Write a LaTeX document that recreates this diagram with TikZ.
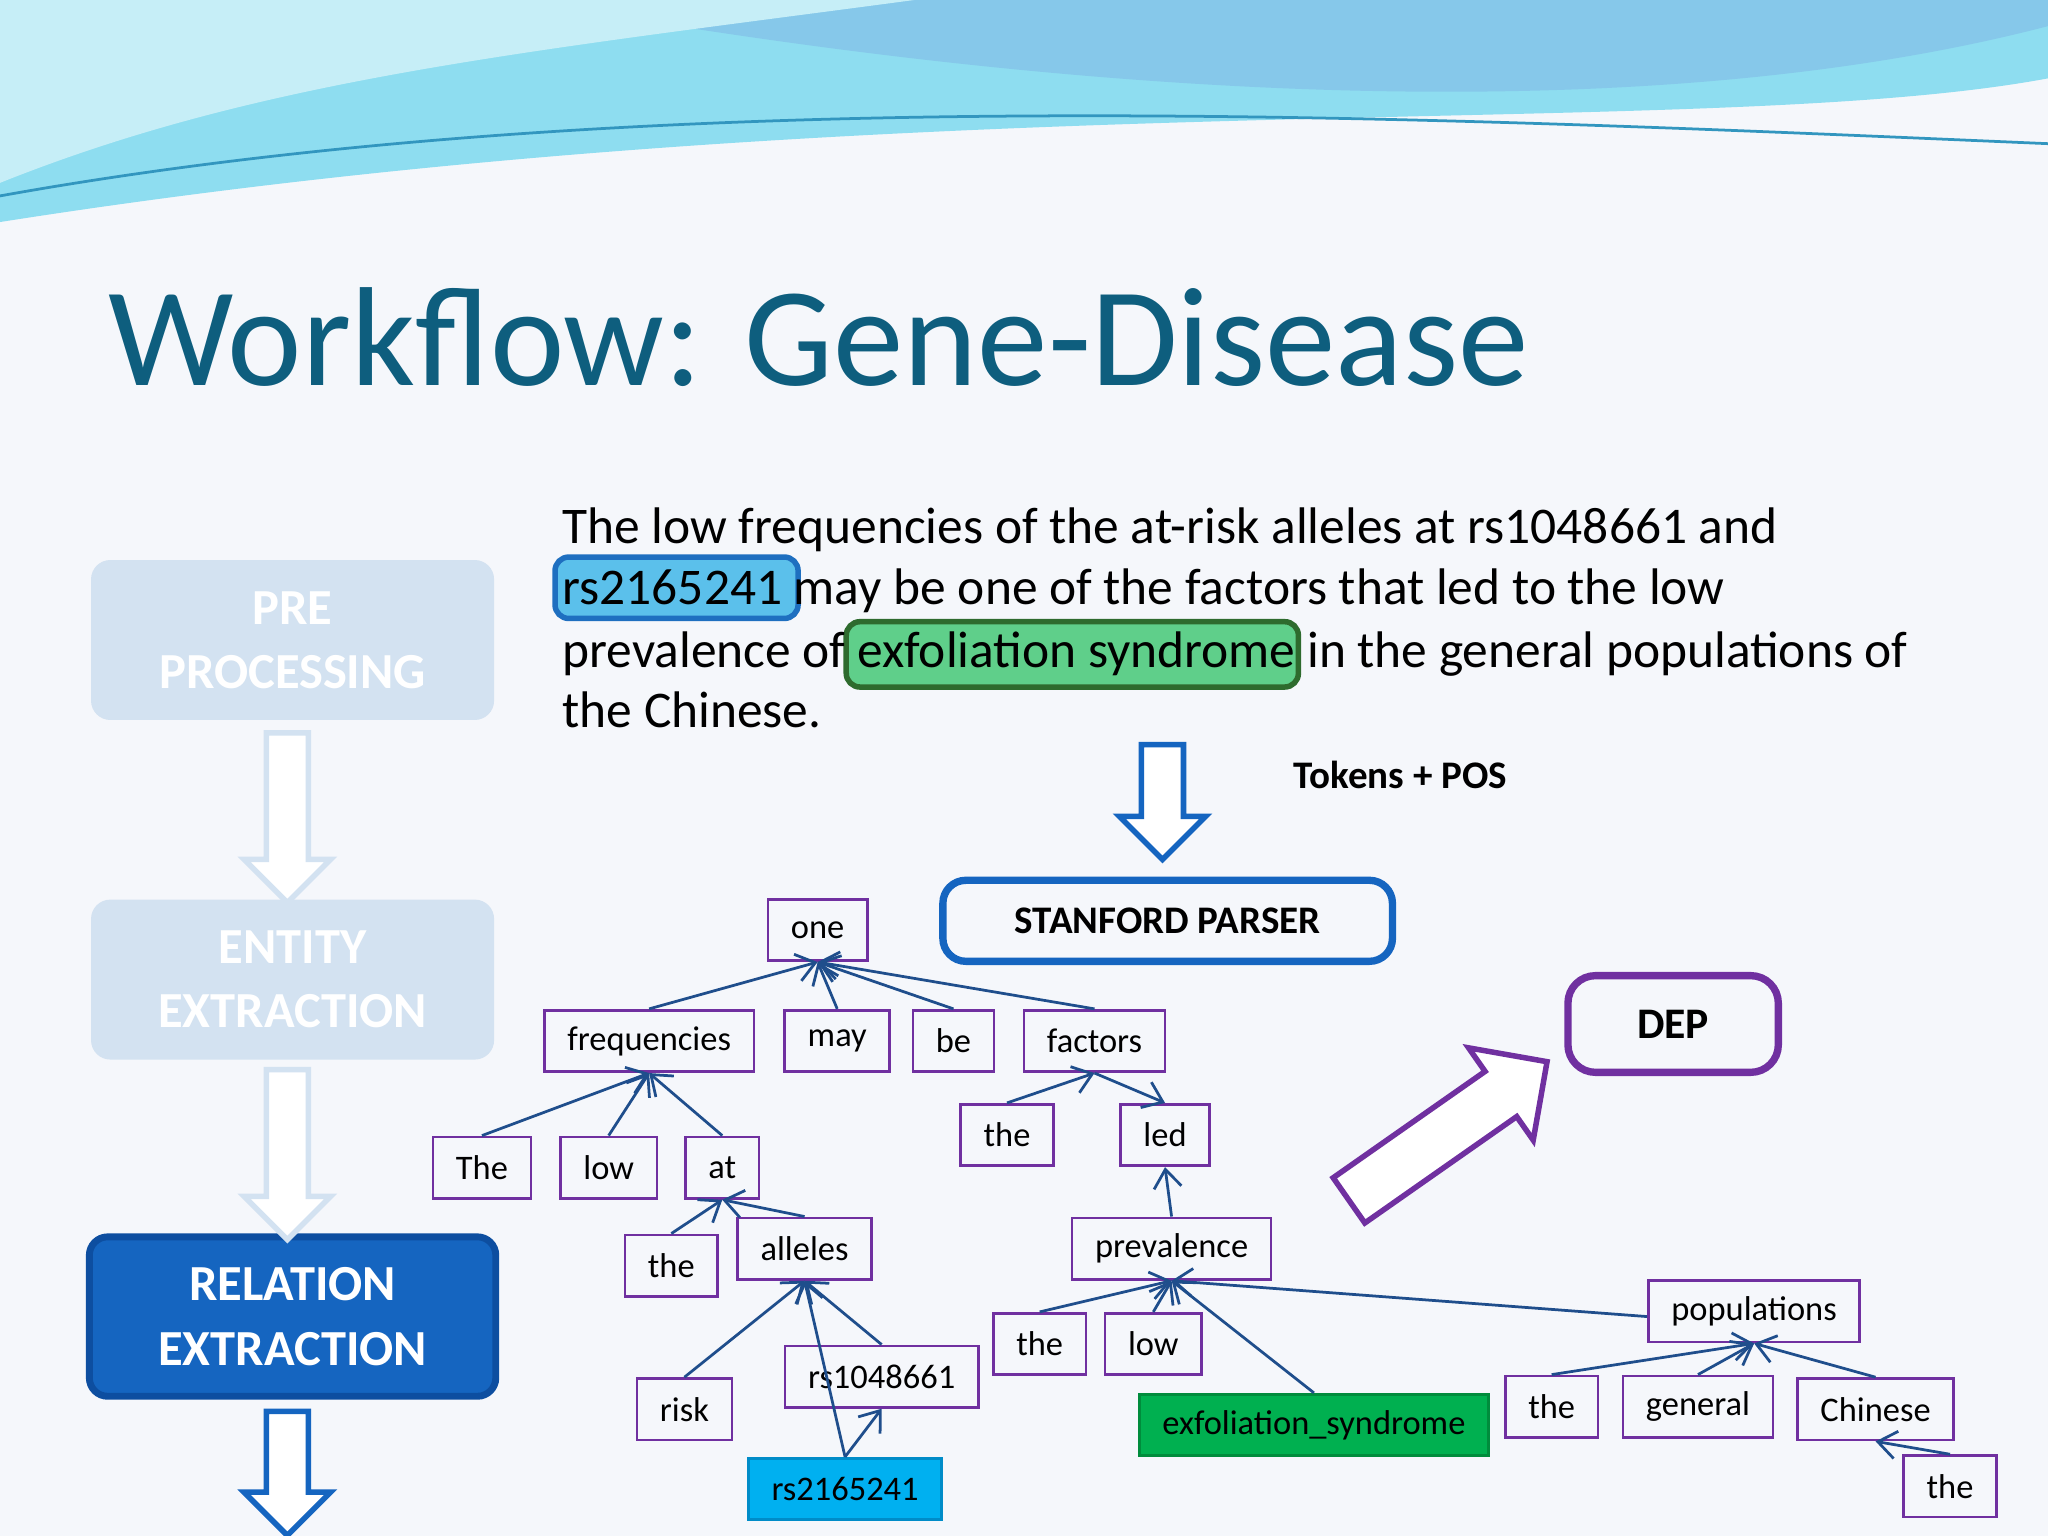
\documentclass[tikz,border=0pt]{standalone}
\usepackage{fontspec}
\setmainfont{Carlito}
\usetikzlibrary{arrows.meta,shapes.arrows}
\definecolor{ttl}{HTML}{0E5E7E}
\definecolor{pur}{HTML}{7030A0}
\definecolor{edg}{HTML}{1F4E8C}
\definecolor{faded}{HTML}{D3E2F1}
\definecolor{relb}{HTML}{1565C0}
\definecolor{bg}{HTML}{F5F7FB}
\definecolor{w1}{HTML}{8EDDF0}
\definecolor{w2}{HTML}{86C8EA}
\definecolor{w3}{HTML}{C6EEF7}
\begin{document}
\begin{tikzpicture}[x=0.01cm,y=-0.01cm,
 t/.style={draw=pur,line width=0.6pt,font=\fontsize{7.5}{9}\selectfont,minimum height=0.47cm,inner xsep=5pt},
 e/.style={draw=edg,line width=0.6pt,-{Straight Barb[length=4pt,width=6pt]}},
 side/.style={rounded corners=4pt,minimum width=3.07cm,minimum height=1.21cm,align=center,text=white,font=\fontsize{11}{14}\selectfont\bfseries},
 harr/.style={single arrow,draw,fill=white,line width=1.2pt,single arrow head extend=0.17cm,minimum height=#1,inner sep=0.14cm}]
\fill[bg] (0,0) rectangle (1568,1176);
\useasboundingbox (0,0) rectangle (1568,1176);
% header waves
\fill[w1] (0,0) -- (1568,0) -- (1568,60) .. controls (1300,110) and (700,60) .. (0,170) -- cycle;
\fill[w2] (400,0) -- (1568,0) -- (1568,20) .. controls (1300,90) and (900,90) .. (400,0) -- cycle;
\fill[w3] (0,0) -- (700,0) .. controls (400,40) and (200,60) .. (0,140) -- cycle;
\draw[cyan!50!teal,line width=0.6pt] (0,150) .. controls (500,60) and (1100,90) .. (1568,110);
% title
\node[anchor=base west,text=ttl,font=\fontsize{30.7}{36}\selectfont,inner sep=0] (title) at (82,295) {Workflow: Gene-Disease};
% highlights
\node[draw={rgb,255:red,30;green,111;blue,192},fill={rgb,255:red,91;green,192;blue,235},rounded corners=3pt,line width=1.2pt,minimum width=1.86cm,minimum height=0.47cm] (h1) at (518,450) {};
\node[draw={rgb,255:red,46;green,107;blue,46},fill={rgb,255:red,95;green,207;blue,138},rounded corners=3pt,line width=1.2pt,minimum width=3.46cm,minimum height=0.5cm] (h2) at (821,501) {};
\begin{scope}[font=\fontsize{11.2}{13}\selectfont]
\node[anchor=base west,inner sep=0] (l1) at (430,416) {The low frequencies of the at-risk alleles at rs1048661 and};
\node[anchor=base west,inner sep=0] (l2) at (430,463) {rs2165241 may be one of the factors that led to the low};
\node[anchor=base west,inner sep=0] (l3) at (430,511) {prevalence of exfoliation syndrome in the general populations of};
\node[anchor=base west,inner sep=0] (l4) at (430,557) {the Chinese.};
\end{scope}
% sidebar
\node[side,fill=faded,draw=faded] (pre) at (224,490) {PRE\\PROCESSING};
\node[side,fill=faded,draw=faded] (ent) at (224,750) {ENTITY\\EXTRACTION};
\node[side,fill=relb,draw={rgb,255:red,13;green,78;blue,160},line width=1.5pt,minimum width=3.11cm,minimum height=1.22cm] (rel) at (224,1008) {RELATION\\EXTRACTION};
\node[harr=1.3cm,draw=faded,rotate=-90] (a1) at (220,618) {};
\node[harr=1.3cm,draw=faded,rotate=-90] (a2) at (220,876) {};
\node[harr=0.95cm,draw=relb,rotate=-90] (a3) at (220,1120) {};
% parser
\node[harr=0.88cm,draw=relb,rotate=-90] (a4) at (890,606) {};
\node[anchor=west,font=\fontsize{8.5}{10}\selectfont\bfseries] (tp) at (978,593) {Tokens + POS};
\node[draw=relb,line width=1.6pt,rounded corners=5pt,minimum width=3.44cm,minimum height=0.62cm,font=\fontsize{8.5}{10}\selectfont\bfseries] (sp) at (894,705) {STANFORD PARSER};
\node[draw=pur,line width=1.6pt,rounded corners=6pt,minimum width=1.61cm,minimum height=0.74cm,font=\fontsize{9.5}{11}\selectfont\bfseries] (dep) at (1281,784) {DEP};
\node[harr=1.85cm,draw=pur,rotate=35,single arrow head extend=0.22cm,inner sep=0.19cm] (a5) at (1100,872) {};
% tree
\node[t] (one) at (626,712) {one};
\node[t] (freq) at (497,797) {frequencies};
\node[t] (may) at (641,797) {may};
\node[t] (be) at (730,797) {be};
\node[t] (fac) at (838,797) {factors};
\node[t] (The) at (369,894) {The};
\node[t] (low) at (466,894) {low};
\node[t] (at) at (553,894) {at};
\node[t] (thef) at (771,869) {the};
\node[t] (led) at (892,869) {led};
\node[t] (thea) at (514,969) {the};
\node[t] (all) at (616,956) {alleles};
\node[t] (prev) at (897,956) {prevalence};
\node[t] (risk) at (524,1079) {risk};
\node[t] (rs1) at (675,1054) {rs1048661};
\node[t,fill={rgb,255:red,0;green,176;blue,240},draw={rgb,255:red,0;green,140;blue,200}] (rs2) at (647,1140) {rs2165241};
\node[t] (thep) at (796,1029) {the};
\node[t] (lowp) at (883,1029) {low};
\node[t,fill={rgb,255:red,0;green,176;blue,80},draw={rgb,255:red,0;green,140;blue,60},minimum width=2.63cm] (exf) at (1006,1091) {exfoliation\_syndrome};
\node[t] (pop) at (1343,1004) {populations};
\node[t] (thepp) at (1188,1077) {the};
\node[t] (gen) at (1300,1077) {general};
\node[t] (chi) at (1436,1079) {Chinese};
\node[t] (thel) at (1493,1138) {the};
\draw[e] (freq.north) -- (one.south);
\draw[e] (may.north) -- (one.south);
\draw[e] (be.north) -- (one.south);
\draw[e] (fac.north) -- (one.south);
\draw[e] (The.north) -- (freq.south);
\draw[e] (low.north) -- (freq.south);
\draw[e] (at.north) -- (freq.south);
\draw[e] (thef.north) -- (fac.south);
\draw[e] (fac.south) -- (led.north);
\draw[e] (prev.north) -- (led.south);
\draw[e] (thea.north) -- (at.south);
\draw[e] (all.north) -- (at.south);
\draw[e] (risk.north) -- (all.south);
\draw[e] (rs1.north) -- (all.south);
\draw[e] (rs2.north) -- (all.south);
\draw[e] (rs2.north) -- (rs1.south);
\draw[e] (thep.north) -- (prev.south);
\draw[e] (lowp.north) -- (prev.south);
\draw[e] (exf.north) -- (prev.south);
\draw[e] ([yshift=-0.04cm]pop.west) -- (prev.south);
\draw[e] (thepp.north) -- (pop.south);
\draw[e] (gen.north) -- (pop.south);
\draw[e] (chi.north) -- (pop.south);
\draw[e] (thel.north) -- (chi.south);
\end{tikzpicture}
\end{document}
